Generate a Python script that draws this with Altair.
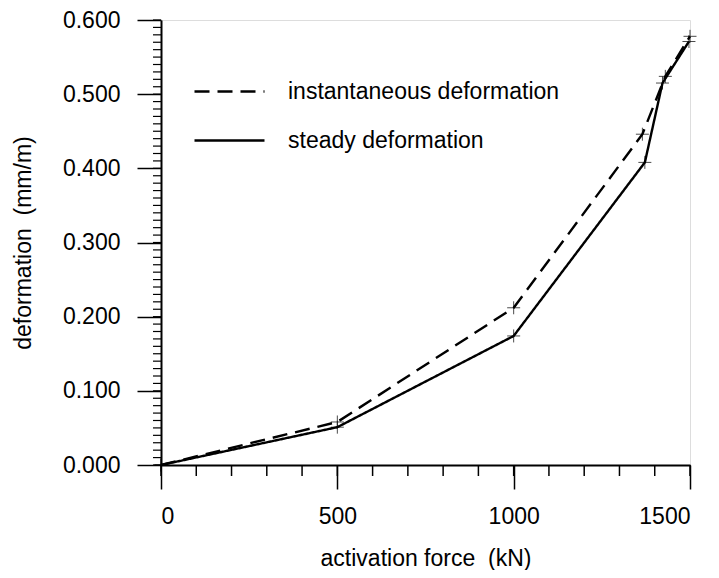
import altair as alt
import pandas as pd

force_inst = [0, 500, 1000, 1365, 1430, 1500]
defo_inst = [0.0, 0.058, 0.212, 0.446, 0.524, 0.578]
force_steady = [0, 500, 1000, 1372, 1422, 1497]
defo_steady = [0.0, 0.051, 0.174, 0.408, 0.515, 0.571]
series_names = ["instantaneous deformation", "steady deformation"]

x_major = [0, 500, 1000, 1500]
y_major = [0.0, 0.1, 0.2, 0.3, 0.4, 0.5, 0.6]
x_minor = [100 * i for i in range(16)]
y_minor = [round(0.01 * i, 2) for i in range(61)]

df = pd.DataFrame(
    [{"force": f, "defo": d, "series": series_names[0]} for f, d in zip(force_inst, defo_inst)]
    + [{"force": f, "defo": d, "series": series_names[1]} for f, d in zip(force_steady, defo_steady)]
)

W, H = 529, 445
FONT = "Liberation Sans"

xs = alt.Scale(domain=[0, 1500], nice=False, zero=False)
ys = alt.Scale(domain=[0, 0.6], nice=False, zero=False)

lines = alt.Chart(df).mark_line(color="black", strokeWidth=2.4).encode(
    x=alt.X("force:Q", scale=xs, axis=alt.Axis(
        values=x_major, format="d", title="activation force\u00a0 (kN)", tickSize=24, tickWidth=1.5,
        domainWidth=2, domainColor="black", tickColor="black", labelPadding=16,
        labelFontSize=23, titleFontSize=23, titleFontWeight="normal", titlePadding=19,
        labelFont=FONT, titleFont=FONT, labelColor="black", titleColor="black", grid=False)),
    y=alt.Y("defo:Q", scale=ys, axis=alt.Axis(
        values=y_major, format=".3f", title="deformation\u00a0 (mm/m)", tickSize=24, tickWidth=1.5,
        domainWidth=2, domainColor="black", tickColor="black", labelPadding=17,
        labelFontSize=23, titleFontSize=23, titleFontWeight="normal", titlePadding=27,
        labelFont=FONT, titleFont=FONT, labelColor="black", titleColor="black", grid=False)),
    strokeDash=alt.StrokeDash("series:N", scale=alt.Scale(domain=series_names, range=[[15, 8], [1, 0]]),
        legend=alt.Legend(title=None, orient="none", legendX=32, legendY=35, symbolType="stroke",
            symbolSize=4900, symbolStrokeWidth=2.4, symbolStrokeColor="black", labelFontSize=23,
            labelFont=FONT, labelColor="black", labelOffset=22, rowPadding=0, padding=0,
            labelLimit=0)),
    detail="series:N",
)

cross = "M-1,0L1,0M0,-1L0,1"
points = alt.Chart(df).mark_point(shape=cross, size=169, color="black", strokeWidth=1, filled=False).encode(
    x=alt.X("force:Q", scale=xs), y=alt.Y("defo:Q", scale=ys)
)

ymin = alt.Chart(pd.DataFrame({"v": y_minor})).mark_rule(color="black", strokeWidth=1.2).encode(
    y=alt.Y("v:Q", scale=ys), x=alt.value(-8), x2=alt.value(0)
)
xmin = alt.Chart(pd.DataFrame({"v": x_minor})).mark_rule(color="black", strokeWidth=1.5).encode(
    x=alt.X("v:Q", scale=xs), y=alt.value(H), y2=alt.value(H + 11)
)

chart = alt.layer(ymin, xmin, lines, points).properties(
    width=W, height=H,
    autosize=alt.AutoSizeParams(type="none"),
    padding={"left": 153, "top": 12, "right": 20, "bottom": 105},
).configure_view(stroke=None).configure(background="white")

chart.save("out.html", embed_options={"renderer": "svg", "actions": False})
